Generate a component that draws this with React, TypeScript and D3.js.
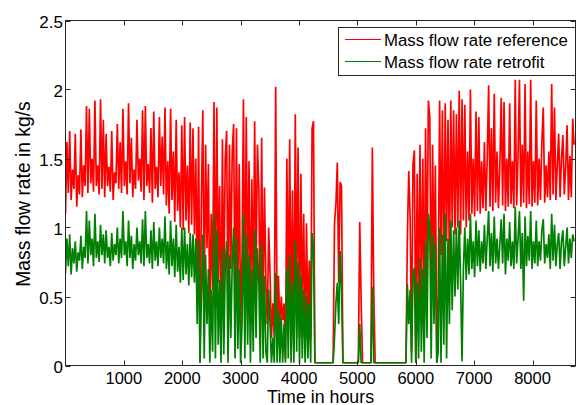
import * as d3 from 'd3'
import React from 'react'

// one sample per day (24 h), kg/s
const hoursPerSample = 24

const refFlow = [
  1.10,1.62,1.25,1.70,1.20,1.42,1.28,1.68,1.15,1.38,1.24,1.71,1.22,1.45,
  1.30,1.88,1.25,1.86,1.32,1.50,1.26,1.92,1.30,1.45,1.24,1.93,1.28,1.78,
  1.22,1.68,1.30,1.44,1.26,1.70,1.20,1.40,1.32,1.75,1.28,1.62,1.25,1.86,
  1.30,1.48,1.24,1.90,1.32,1.65,1.22,1.42,1.28,1.78,1.34,1.50,1.26,1.85,
  1.20,1.88,1.30,1.46,1.25,1.72,1.18,1.84,1.28,1.44,1.22,1.80,1.30,1.66,
  1.24,1.87,1.16,1.48,1.10,1.86,1.20,1.55,1.04,1.78,1.12,1.40,1.00,1.74,
  0.98,1.80,1.05,1.45,0.96,1.76,1.02,1.72,0.95,1.50,0.60,1.73,0.02,1.20,
  1.85,0.40,1.60,0.85,1.46,0.30,1.10,0.55,1.91,0.45,1.87,0.60,1.30,0.20,
  1.64,0.50,1.50,1.70,0.35,1.60,0.70,1.55,1.75,0.40,1.72,0.55,1.46,0.25,
  0.80,1.93,0.45,1.80,0.60,1.48,0.30,1.35,0.50,1.77,0.65,1.60,1.27,0.35,
  1.65,0.40,1.29,0.60,0.30,1.00,0.66,0.20,0.45,0.20,2.02,0.30,0.65,0.25,
  0.50,0.33,0.45,0.05,1.50,0.40,1.64,0.30,1.27,0.10,1.82,0.50,1.58,0.20,
  1.39,0.40,1.10,0.15,1.03,0.30,0.76,0.20,1.72,1.77,0.02,0.02,0.02,0.02,
  0.02,0.02,0.02,0.02,0.02,0.02,0.02,0.02,0.02,0.02,1.03,1.17,1.47,0.60,
  1.33,1.30,0.02,0.02,0.02,0.02,0.02,0.02,0.02,0.02,0.02,0.02,0.02,0.02,
  1.04,0.47,0.02,0.02,0.02,0.02,0.02,0.02,0.02,1.58,0.54,0.02,0.02,0.02,
  0.02,0.02,0.02,0.02,0.02,0.02,0.02,0.02,0.02,0.02,0.02,0.02,0.02,0.02,
  0.02,0.02,0.02,0.02,0.02,0.02,0.93,1.41,1.07,0.10,1.46,1.56,0.02,1.39,
  0.40,1.60,0.50,1.50,0.30,1.72,0.60,1.92,1.80,0.40,1.60,0.70,1.45,0.02,
  0.50,1.92,0.80,1.85,0.60,1.90,0.90,1.78,0.70,1.92,1.00,1.85,0.95,1.82,
  1.00,1.99,0.95,1.93,1.05,1.89,1.00,1.55,1.05,2.00,1.10,1.50,1.08,1.84,
  1.12,1.80,1.10,1.48,1.14,1.62,1.12,1.50,2.03,1.15,1.72,1.12,1.97,1.18,
  1.55,1.14,1.45,1.94,1.16,1.91,1.12,1.50,1.15,1.90,1.17,1.48,1.14,2.07,
  1.16,1.52,2.07,1.15,1.60,1.18,2.04,1.14,1.55,1.17,2.07,1.15,1.48,1.18,
  1.92,1.16,1.50,1.20,1.62,1.87,1.18,1.45,1.22,1.55,1.20,2.04,1.24,1.87,
  1.20,1.45,1.68,1.22,1.50,1.67,1.24,1.45,1.74,1.20,1.52,1.22,1.79,1.60,
]

const retroFlow = [
  0.67,0.92,0.72,0.95,0.66,0.85,0.74,0.90,0.68,0.82,0.76,0.94,0.70,0.86,
  0.78,1.12,0.74,1.05,0.80,0.92,0.72,1.10,0.78,0.90,0.75,1.02,0.80,0.95,
  0.74,0.98,0.78,0.86,0.72,0.96,0.76,0.88,0.80,1.00,0.74,0.92,0.78,1.12,
  0.80,0.90,0.72,1.05,0.78,0.94,0.70,0.88,0.76,1.00,0.80,0.90,0.74,1.06,
  0.72,1.12,0.78,0.88,0.74,0.98,0.70,1.04,0.76,0.90,0.72,1.00,0.78,0.92,
  0.74,1.08,0.70,0.90,0.66,1.05,0.72,0.92,0.64,1.02,0.68,0.86,0.60,1.00,
  0.62,1.00,0.66,0.88,0.58,0.96,0.64,0.95,0.60,0.92,0.30,0.90,0.02,0.50,
  0.95,0.05,0.80,0.30,0.70,0.02,0.55,0.10,1.10,0.05,0.98,0.15,0.62,0.02,
  0.85,0.08,0.72,0.90,0.02,0.80,0.20,0.75,1.00,0.05,0.92,0.12,0.70,0.02,
  0.30,1.10,0.05,0.95,0.15,0.80,0.02,0.70,0.10,0.98,0.20,0.85,0.60,0.02,
  0.88,0.05,0.65,0.10,0.02,0.55,0.30,0.02,0.20,0.02,0.67,0.02,0.40,0.02,
  0.35,0.02,0.30,0.02,0.70,0.05,0.80,0.02,0.60,0.02,0.90,0.10,0.75,0.02,
  0.65,0.05,0.55,0.02,0.50,0.05,0.45,0.02,0.96,0.85,0.02,0.02,0.02,0.02,
  0.02,0.02,0.02,0.02,0.02,0.02,0.02,0.02,0.02,0.02,0.20,0.45,0.60,0.30,
  0.83,0.55,0.02,0.02,0.02,0.02,0.02,0.02,0.02,0.02,0.02,0.02,0.02,0.02,
  0.30,0.02,0.02,0.02,0.02,0.02,0.02,0.02,0.02,0.57,0.02,0.02,0.02,0.02,
  0.02,0.02,0.02,0.02,0.02,0.02,0.02,0.02,0.02,0.02,0.02,0.02,0.02,0.02,
  0.02,0.02,0.02,0.02,0.02,0.02,0.59,0.30,0.55,0.02,0.65,0.71,0.02,0.60,
  0.05,0.78,0.10,0.70,0.02,0.90,0.20,1.10,1.00,0.05,0.95,0.30,0.88,0.02,
  0.10,1.00,0.02,0.95,0.15,1.10,0.05,0.92,0.30,1.05,0.40,0.98,0.50,1.00,
  0.55,1.05,0.60,0.03,0.70,1.00,0.62,0.92,0.66,1.10,0.70,0.90,0.64,1.05,
  0.72,0.98,0.68,0.90,0.74,1.02,0.70,0.92,1.12,0.72,0.96,0.68,1.08,0.74,
  0.92,0.70,0.88,1.06,0.74,1.10,0.66,0.92,0.76,1.04,0.72,0.90,0.70,1.15,
  0.74,0.92,1.12,0.70,0.96,0.47,1.08,0.72,0.94,0.76,1.12,0.70,0.90,0.74,
  1.05,0.72,0.90,0.76,0.98,1.06,0.74,0.88,0.78,0.95,0.70,1.10,0.76,1.02,
  0.72,0.88,0.96,0.70,0.90,0.98,0.72,0.86,1.00,0.74,0.92,0.78,0.95,0.90,
]

const xTicks = [1000, 2000, 3000, 4000, 5000, 6000, 7000, 8000]
const yTicks = [0, 0.5, 1, 1.5, 2, 2.5]
const seriesNames = ['Mass flow rate reference', 'Mass flow rate retrofit']
const seriesColors = ['#ff0000', '#008000']

export default function App() {
  const width = 577
  const height = 405
  const left = 65.5, right = 575.5, top = 20.5, bottom = 365.5
  const font = 'Arial, "Liberation Sans", sans-serif'

  const x = d3.scaleLinear().domain([0, 8736]).range([left, right])
  const y = d3.scaleLinear().domain([0, 2.5]).range([bottom, top])

  const line = d3.line<number>()
    .x((d, i) => x(i * hoursPerSample))
    .y(d => y(d))

  const series = [refFlow, retroFlow]

  return (
    <svg width={width} height={height} style={{position: 'absolute', left: 0, top: 0, background: '#fff'}}>
      <defs>
        <clipPath id="plot">
          <rect x={left} y={top} width={right - left} height={bottom - top} />
        </clipPath>
      </defs>
      <g clipPath="url(#plot)">
        {series.map((s, i) => (
          <path key={i} d={line(s) || ''} fill="none" stroke={seriesColors[i]} strokeWidth={1.7} strokeLinejoin="bevel" />
        ))}
      </g>
      <rect x={left} y={top} width={right - left} height={bottom - top} fill="none" stroke="#262626" strokeWidth={1} />
      {xTicks.map(t => (
        <g key={t}>
          <line x1={Math.round(x(t)) + 0.5} x2={Math.round(x(t)) + 0.5} y1={bottom} y2={bottom - 5} stroke="#262626" />
          <line x1={Math.round(x(t)) + 0.5} x2={Math.round(x(t)) + 0.5} y1={top} y2={top + 5} stroke="#262626" />
          <text x={x(t)} y={383.5} textAnchor="middle" fontFamily={font} fontSize={16.5} fill="#000">{t}</text>
        </g>
      ))}
      {yTicks.map(t => (
        <g key={t}>
          <line x1={left} x2={left + 5} y1={Math.round(y(t)) + 0.5} y2={Math.round(y(t)) + 0.5} stroke="#262626" />
          <line x1={right} x2={right - 5} y1={Math.round(y(t)) + 0.5} y2={Math.round(y(t)) + 0.5} stroke="#262626" />
          <text x={63} y={y(t) + 7} textAnchor="end" fontFamily={font} fontSize={17} fill="#000">{t}</text>
        </g>
      ))}
      <text x={(left + right) / 2} y={402.5} textAnchor="middle" fontFamily={font} fontSize={17.8} fill="#000">Time in hours</text>
      <text transform={`translate(30,${(top + bottom) / 2 + 1}) rotate(-90)`} textAnchor="middle" fontFamily={font} fontSize={19.3} fill="#000">Mass flow rate in kg/s</text>
      <g>
        <rect x={338.5} y={27.5} width={237} height={48} fill="#fff" stroke="#262626" />
        {seriesNames.map((n, i) => (
          <g key={n}>
            <line x1={345} x2={381} y1={39.5 + i * 22} y2={39.5 + i * 22} stroke={seriesColors[i]} />
            <text x={384} y={46 + i * 22} fontFamily={font} fontSize={16.8} fill="#000">{n}</text>
          </g>
        ))}
      </g>
    </svg>
  )
}
